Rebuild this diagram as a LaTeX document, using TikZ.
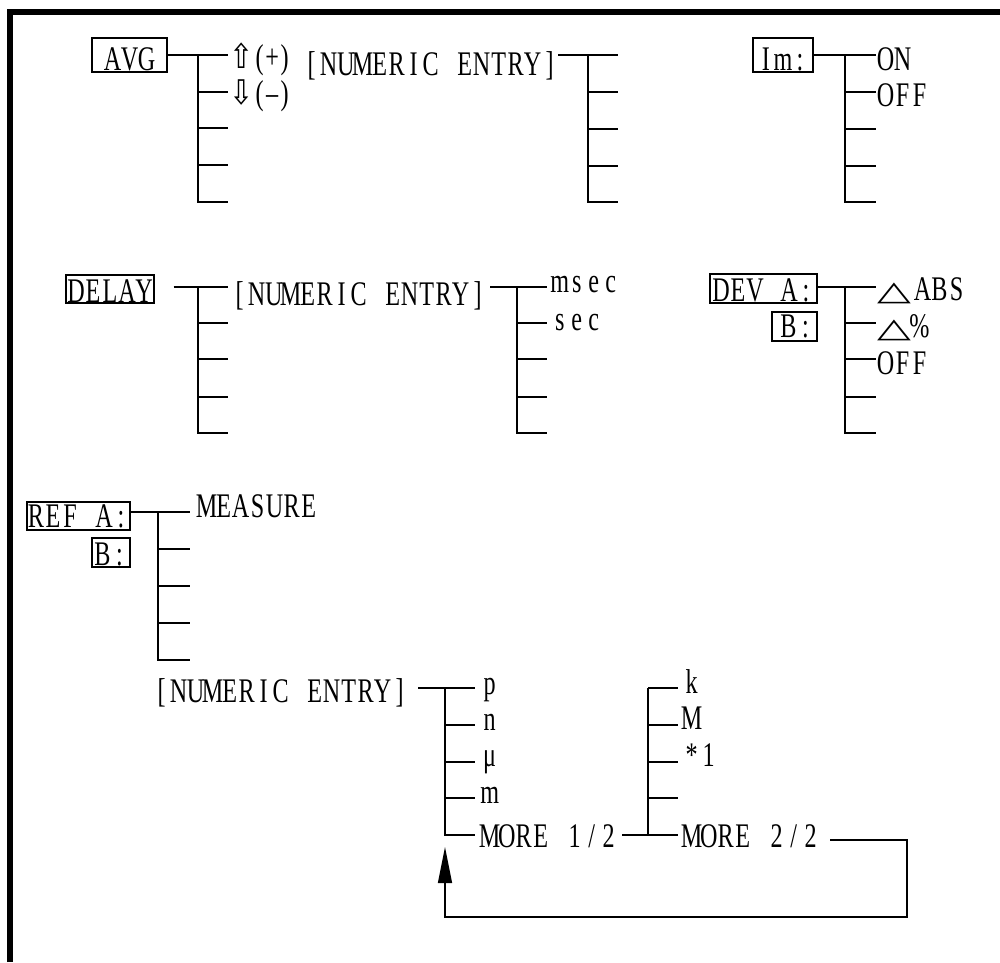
\documentclass[tikz,border=0pt]{standalone}
\usepackage{fontspec}
\usepackage{graphicx}
\usetikzlibrary{arrows.meta}
\newfontfamily\sm[FakeStretch=0.7]{Liberation Serif}
\newfontfamily\symf{DejaVu Sans}
\makeatletter
\newcommand\mn[2][17pt]{\@tfor\mn@c:=#2\do{\makebox[#1][c]{\mn@c}}}
\makeatother
\newcommand\uparr{{\symf\fontsize{34}{34}\selectfont\scalebox{0.85}[1]{⇧}}}
\newcommand\dnarr{{\symf\fontsize{34}{34}\selectfont\scalebox{0.85}[1]{⇩}}}
\newcommand\tri{{\symf\fontsize{44}{44}\selectfont\scalebox{1}[0.62]{△}}}
% tree: name, bus x, end x, five y values
\newcommand\tree[8]{%
  \coordinate (#1T) at (#2,#4);
  \coordinate (#11) at (#3,#4);
  \coordinate (#12) at (#3,#5);
  \coordinate (#13) at (#3,#6);
  \coordinate (#14) at (#3,#7);
  \coordinate (#15) at (#3,#8);
  \draw[ln] (#1T) -- (#1T |- #15) -- (#15);
  \draw[ln] (#1T) -- (#11);
  \draw[ln] (#1T |- #12) -- (#12);
  \draw[ln] (#1T |- #13) -- (#13);
  \draw[ln] (#1T |- #14) -- (#14);
}
\begin{document}
\begin{tikzpicture}[x=1pt,y=-1pt,
  every node/.style={font=\sm\fontsize{34.5}{36}\selectfont},
  ln/.style={line width=1.3pt, draw=black},
  lbl/.style={inner sep=0pt, anchor=base west},
  mbox/.style={draw, line width=1.1pt, inner sep=0pt, anchor=base}]
\useasboundingbox (0,0) rectangle (1000,962);
\fill[white] (0,0) rectangle (1000,962);
% frame
\draw[line width=6pt, line join=miter] (9.5,962) -- (9.5,12) -- (1000,12);

% ---------- AVG ----------
\node[mbox, minimum width=75pt, text height=32pt, text depth=2pt] (avg) at (129.5,70) {\mn{AVG}\hspace{4pt}};
\tree{a}{198}{228}{55}{92}{128}{165}{202}
\draw[ln] (avg.east) -- (a1);
\node[lbl] (up) at (229,68) {\uparr\mn[12.5pt]{(+)}};
\node[lbl] (dn) at (229,104) {\dnarr\mn[12.5pt]{(–)}};
\node[lbl] (ne1) at (303,75) {\mn{[NUMERIC~ENTRY]}};
\tree{b}{588}{618}{55}{92}{129}{166}{202}
\draw[ln] (ne1.east |- b1) -- (b1);

% ---------- Im ----------
\node[mbox, minimum width=60pt, text height=32pt, text depth=2pt] (im) at (783,70) {\mn{Im:}};
\tree{c}{845}{876}{55}{92}{129}{166}{202}
\draw[ln] (im.east) -- (c1);
\node[lbl] (on) at (877,70) {\mn{ON}};
\node[lbl] (off1) at (877,106) {\mn{OFF}};

% ---------- DELAY ----------
\node[mbox, minimum width=88pt, text height=27pt, text depth=1pt] (delay) at (110,302) {\mn{DELAY}};
\tree{d}{198}{228}{287}{323}{359}{397}{433}
\draw[ln] ([xshift=19pt]delay.east |- d1) -- (d1);
\node[lbl] (ne2) at (231,305) {\mn{[NUMERIC~ENTRY]}};
\tree{e}{517}{547}{287}{323}{359}{397}{433}
\draw[ln] ([xshift=4pt]ne2.east |- e1) -- (e1);
\node[lbl] (msec) at (551,292) {\mn{msec}};
\node[lbl] (sec) at (551,330) {\mn{sec}};

% ---------- DEV ----------
\node[mbox, minimum width=107pt, text height=27pt, text depth=2pt] (deva) at (763.5,301) {\mn{DEV~A:}};
\node[mbox, minimum width=45pt, text height=25pt, text depth=4pt] (devb) at (794.5,337) {\hspace{5pt}\mn{B:}};
\tree{f}{845}{876}{287}{323}{359}{397}{433}
\draw[ln] (deva.east |- f1) -- (f1);
\node[lbl] (abs) at (877,300) {\tri\hspace{3pt}\mn{ABS}};
\node[lbl] (pct) at (877,337) {\tri\mn{\%}};
\node[lbl] (off2) at (877,374) {\mn{OFF}};

% ---------- REF ----------
\node[mbox, minimum width=103pt, text height=25pt, text depth=3pt] (refa) at (78.5,527) {\mn{REF~A:}};
\node[mbox, minimum width=38pt, text height=27pt, text depth=2pt] (refb) at (111,565) {\mn{B:}};
\tree{g}{158}{190}{512}{549}{586}{623}{660}
\draw[ln] (refa.east |- g1) -- (g1);
\node[lbl] (meas) at (198,517) {\mn{MEASURE}};

% ---------- units ----------
\node[lbl] (ne3) at (153,702) {\mn{[NUMERIC~ENTRY]}};
\tree{h}{445}{475}{688}{725}{762}{798}{835}
\draw[ln] ([xshift=10pt]ne3.east |- h1) -- (h1);
\node[lbl] (p) at (481,694) {\mn{p}};
\node[lbl] (n) at (481,730) {\mn{n}};
\node[lbl] (mu) at (481,766) {\mn{μ}};
\node[lbl] (m) at (481,803) {\mn{m}};
\node[lbl] (more1) at (481,847) {\mn{MORE~1/2}};
\tree{i}{648}{678}{688}{725}{762}{798}{835}
\draw[ln] ([xshift=5pt]more1.east |- i5) -- (i5);
\node[lbl] (k) at (683,693) {\mn{k}};
\node[lbl] (M) at (683,729) {\mn{M}};
\node[lbl] (one) at (683,766) {\mn{*1}};
\node[lbl] (more2) at (683,847) {\mn{MORE~2/2}};

% return path
\coordinate (r1) at (907,840);
\coordinate (r2) at (907,917);
\coordinate (r3) at (hT |- r2);
\coordinate (rtip) at (445,847);
\draw[ln, -{Triangle[length=36pt,width=14pt]}] ([xshift=11pt]more2.east |- r1) -- (r1) -- (r2) -- (r3) -- (rtip);
\end{tikzpicture}
\end{document}
